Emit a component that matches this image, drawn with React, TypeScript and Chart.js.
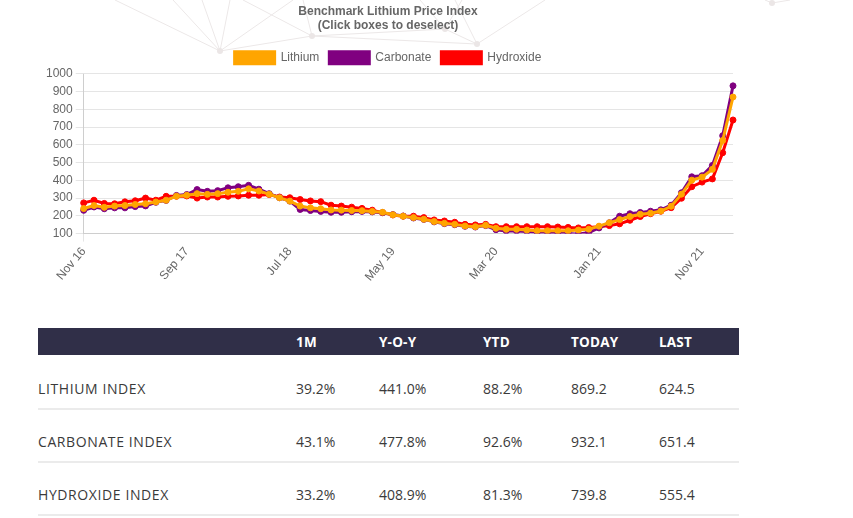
import React, { useEffect, useRef } from "react";
import { Chart, registerables } from "chart.js";

Chart.register(...registerables);

const labels = [
  "Nov 16", "Dec 16", "Jan 17", "Feb 17", "Mar 17", "Apr 17", "May 17", "Jun 17", "Jul 17", "Aug 17",
  "Sep 17", "Oct 17", "Nov 17", "Dec 17", "Jan 18", "Feb 18", "Mar 18", "Apr 18", "May 18", "Jun 18",
  "Jul 18", "Aug 18", "Sep 18", "Oct 18", "Nov 18", "Dec 18", "Jan 19", "Feb 19", "Mar 19", "Apr 19",
  "May 19", "Jun 19", "Jul 19", "Aug 19", "Sep 19", "Oct 19", "Nov 19", "Dec 19", "Jan 20", "Feb 20",
  "Mar 20", "Apr 20", "May 20", "Jun 20", "Jul 20", "Aug 20", "Sep 20", "Oct 20", "Nov 20", "Dec 20",
  "Jan 21", "Feb 21", "Mar 21", "Apr 21", "May 21", "Jun 21", "Jul 21", "Aug 21", "Sep 21", "Oct 21",
  "Nov 21", "Dec 21", "Jan 22", "Feb 22",
];

const lithium = [
  241, 258, 248, 255, 258, 264, 268, 278, 288, 311,
  316, 325, 321, 325, 333, 338, 352, 340, 322, 302,
  283, 255, 245, 240, 233, 232, 230, 229, 225, 220,
  206, 198, 190, 181, 168, 158, 152, 143, 139, 147,
  130, 124, 124, 120, 116, 116, 116, 116, 120, 125,
  142, 161, 179, 196, 209, 215, 227, 254, 322, 401,
  418, 462, 624.5, 869.2,
];

const carbonate = [
  231, 250, 240, 245, 245, 252, 256, 276, 287, 315,
  320, 348, 338, 342, 358, 364, 372, 350, 325, 302,
  283, 236, 230, 225, 220, 220, 223, 225, 222, 218,
  207, 199, 188, 180, 166, 156, 150, 141, 137, 145,
  122, 115, 115, 112, 107, 107, 104, 100, 96, 106,
  132, 161, 198, 212, 219, 226, 234, 260, 330, 420,
  426, 484, 651.4, 932.1,
];

const hydroxide = [
  273, 288, 270, 268, 279, 285, 300, 288, 310, 310,
  312, 300, 306, 306, 310, 312, 316, 316, 320, 306,
  302, 292, 284, 280, 260, 255, 249, 242, 232, 218,
  205, 198, 198, 190, 177, 171, 164, 152, 149, 152,
  139, 139, 139, 139, 139, 139, 137, 135, 132, 134,
  138, 145, 155, 175, 196, 212, 226, 246, 299, 364,
  390, 408, 555.4, 739.8,
];

const seriesNames = ["Lithium", "Carbonate", "Hydroxide"];
const seriesColors = ["#FFA500", "#800080", "#FF0000"];

const tableHeaders = ["", "1M", "Y-O-Y", "YTD", "TODAY", "LAST"];
const tableRows = [
  ["LITHIUM INDEX", "39.2%", "441.0%", "88.2%", "869.2", "624.5"],
  ["CARBONATE INDEX", "43.1%", "477.8%", "92.6%", "932.1", "651.4"],
  ["HYDROXIDE INDEX", "33.2%", "408.9%", "81.3%", "739.8", "555.4"],
];
const colWidths = [258, 83, 104, 88, 88, 80];

const FONT = "'Liberation Sans', Arial, Helvetica, sans-serif";

// decorative background network (light lines and dots)
const netNodes = [
  [220, 51], [312, 36], [445, 29], [477, 44], [772, 3],
];
const netLines = [
  [115, 0, 220, 51], [173, 0, 220, 51], [202, 0, 220, 51], [230, 0, 220, 51], [293, 0, 220, 51],
  [220, 51, 312, 36], [243, 0, 312, 36], [303, 0, 312, 36], [312, 36, 477, 44], [312, 36, 445, 29],
  [445, 29, 420, 0], [445, 29, 462, 0], [477, 44, 545, 0], [477, 44, 455, 0], [445, 29, 477, 44],
  [772, 3, 765, 0], [772, 3, 790, 0],
];

function ChartBox() {
  const ref = useRef<HTMLCanvasElement | null>(null);
  useEffect(() => {
    if (!ref.current) return;
    Chart.defaults.font.family = FONT;
    Chart.defaults.color = "#666";
    const datasets = [lithium, carbonate, hydroxide].map((d, k) => ({
      label: seriesNames[k],
      data: d,
      borderColor: seriesColors[k],
      backgroundColor: seriesColors[k],
      pointBackgroundColor: seriesColors[k],
      pointBorderColor: seriesColors[k],
      borderWidth: 3,
      pointRadius: 3,
      pointBorderWidth: 1,
      tension: 0,
      fill: false,
    }));
    const chart = new Chart(ref.current, {
      type: "line",
      data: { labels, datasets },
      options: {
        animation: false,
        responsive: false,
        layout: { padding: { left: 5, right: 6, top: 0, bottom: 0 } },
        plugins: {
          title: {
            display: true,
            text: ["Benchmark Lithium Price Index", "(Click boxes to deselect)"],
            color: "#666",
            font: { family: FONT, size: 12, weight: "bold" },
            padding: { top: 4, bottom: 9 },
          },
          legend: {
            labels: {
              boxWidth: 40,
              boxHeight: 12,
              color: "#666",
              font: { family: FONT, size: 12 },
              padding: 10,
            },
          },
          tooltip: { enabled: false },
        },
        scales: {
          x: {
            grid: {
              color: (ctx: any) => (ctx.index % 10 === 0 ? "rgba(0,0,0,0.1)" : "rgba(0,0,0,0)"),
            },
            ticks: {
              autoSkip: false,
              maxRotation: 50,
              minRotation: 50,
              color: "#666",
              font: { family: FONT, size: 12 },
              callback: (_v: any, i: number) => (i % 10 === 0 ? labels[i] : null),
            },
          },
          y: {
            min: 100,
            max: 1000,
            ticks: {
              stepSize: 100,
              color: "#666",
              font: { family: FONT, size: 12 },
              callback: (v: any) => String(v),
            },
            grid: { color: "rgba(0,0,0,0.1)" },
          },
        },
      },
    });
    return () => chart.destroy();
  }, []);
  return <canvas ref={ref} width={701} height={287} style={{ width: 701, height: 287, display: "block" }} />;
}

export default function App() {
  return (
    <div style={{ position: "absolute", left: 0, top: 0, width: 853, height: 518, overflow: "hidden", background: "#fff" }}>
      <svg width={853} height={120} style={{ position: "absolute", left: 0, top: 0 }}>
        {netLines.map((l, i) => (
          <line key={i} x1={l[0]} y1={l[1]} x2={l[2]} y2={l[3]} stroke="#ece8e8" strokeWidth={1} />
        ))}
        {netNodes.map((n, i) => (
          <circle key={i} cx={n[0]} cy={n[1]} r={3} fill="#ebe6e6" />
        ))}
      </svg>
      <div style={{ position: "absolute", left: 38, top: 0 }}>
        <ChartBox />
      </div>
      <div
        style={{
          position: "absolute",
          left: 38,
          top: 328,
          width: 701,
          fontFamily: "'Open Sans', sans-serif",
        }}
      >
        <div style={{ display: "flex", height: 27, background: "#302f48", alignItems: "center" }}>
          {tableHeaders.map((h, i) => (
            <div
              key={i}
              style={{ width: colWidths[i], color: "#fff", fontWeight: 700, fontSize: 13.5, letterSpacing: 0.2 }}
            >
              {h}
            </div>
          ))}
        </div>
        {tableRows.map((r, ri) => (
          <div
            key={ri}
            style={{
              display: "flex",
              height: 53,
              alignItems: "flex-end",
              borderBottom: "2px solid #ebebeb",
              boxSizing: "border-box",
              paddingBottom: 9,
              marginTop: ri === 0 ? 2 : 0,
            }}
          >
            {r.map((c, ci) => (
              <div
                key={ci}
                style={{
                  width: colWidths[ci],
                  color: "#3a3a3a",
                  fontSize: 14,
                  letterSpacing: ci === 0 ? 0.6 : 0,
                  lineHeight: "20px",
                }}
              >
                {c}
              </div>
            ))}
          </div>
        ))}
      </div>
    </div>
  );
}
